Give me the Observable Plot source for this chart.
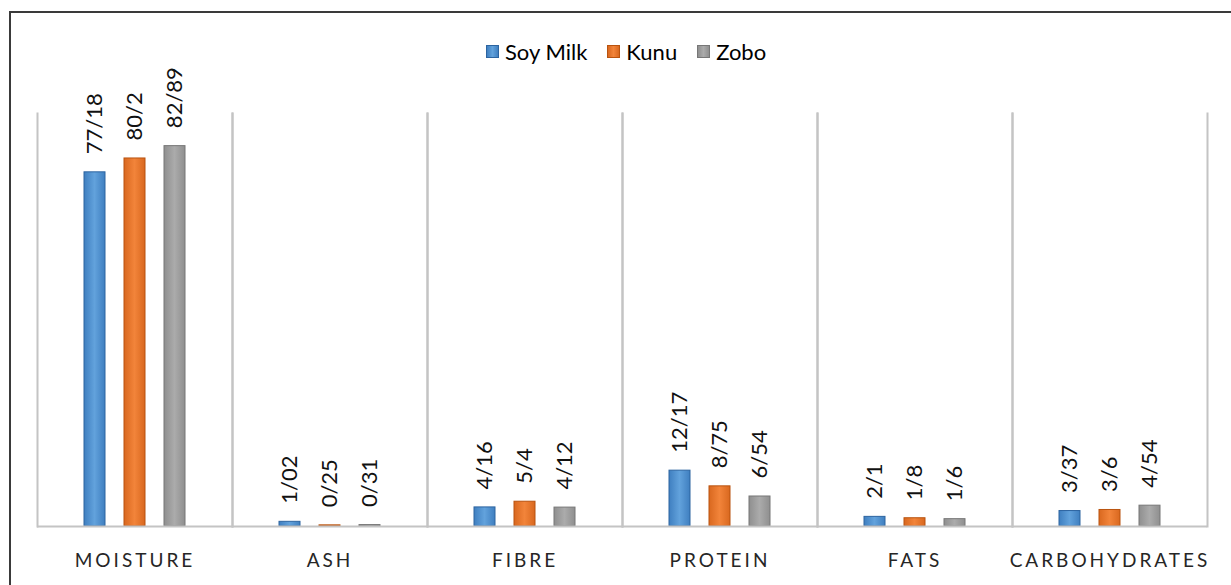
<!DOCTYPE html>
<html>
<head>
<meta charset="utf-8">
<script src="https://cdn.jsdelivr.net/npm/d3@7"></script>
<script src="https://cdn.jsdelivr.net/npm/@observablehq/plot@0.6"></script>
<style>
  html, body { margin: 0; padding: 0; background: #fff; overflow: hidden; }
  body { width: 1231px; height: 585px; position: relative; font-family: Lato, "Open Sans", sans-serif; }
  #border { position: absolute; left: 9px; top: 11px; width: 1260px; height: 620px; border: 2px solid #3a3a3a; box-sizing: border-box; pointer-events: none; }
  #legend { position: absolute; left: 486px; top: 38px; display: flex; align-items: center; font-size: 22px; color: #000; }
  #legend .item { display: flex; align-items: center; margin-right: 20px; }
  #legend .sw { width: 13px; height: 13px; box-sizing: border-box; margin-right: 6px; border: 1px solid; }
  #chart { position: absolute; left: 0; top: 0; }
</style>
</head>
<body>
<div id="chart"></div>
<div id="legend"></div>
<div id="border"></div>
<script>
const categories = ["MOISTURE", "ASH", "FIBRE", "PROTEIN", "FATS", "CARBOHYDRATES"];
const series = ["Soy Milk", "Kunu", "Zobo"];
const soyMilk = [77.18, 1.02, 4.16, 12.17, 2.1, 3.37];
const kunu = [80.2, 0.25, 5.4, 8.75, 1.8, 3.6];
const zobo = [82.89, 0.31, 4.12, 6.54, 1.6, 4.54];

const seriesValues = [soyMilk, kunu, zobo];
const data = [];
categories.forEach((c, i) => {
  series.forEach((s, j) => data.push({category: c, series: s, value: seriesValues[j][i]}));
});

const fillEdge = ["#3f7fc0", "#d9681f", "#8f8f8f"];
const fillMid = ["#62a2dc", "#f2843a", "#ababab"];
const strokeCol = ["#2c64a0", "#b9530f", "#777777"];
const gradIds = ["gSoy", "gKunu", "gZobo"];

const chart = Plot.plot({
  width: 1231,
  height: 585,
  marginLeft: 36,
  marginRight: 23,
  marginTop: 113,
  marginBottom: 59,
  style: {fontFamily: "Lato, 'Open Sans', sans-serif", background: "transparent"},
  fx: {domain: categories, padding: 0, axis: null},
  x: {domain: series, padding: 0.475, insetLeft: 28, insetRight: 28, axis: null},
  y: {domain: [0, 90], axis: null},
  color: {domain: series, range: gradIds.map(id => `url(#${id})`)},
  marks: [
    Plot.frame({anchor: "left", stroke: "#c4c4c4", strokeWidth: 2}),
    Plot.frame({anchor: "right", stroke: "#c4c4c4", strokeWidth: 2}),
    Plot.barY(data, {
      fx: "category", x: "series", y: "value", fill: "series",
      stroke: d => strokeCol[series.indexOf(d.series)], strokeWidth: 1
    }),
    Plot.ruleY([0], {stroke: "#c4c4c4", strokeWidth: 2}),
    Plot.text(data, {
      fx: "category", x: "series", y: "value",
      text: d => String(d.value).replace(".", "/"),
      rotate: -90, textAnchor: "start", dy: -18, fontSize: 22, fill: "#111"
    }),
    Plot.text(categories, {
      fx: d => d, text: d => d, frameAnchor: "bottom", lineAnchor: "top",
      dy: 27, fontSize: 19, fill: "#262626"
    })
  ]
});

// gradient definitions for the bar fills
const defs = d3.select(chart).insert("defs", ":first-child");
gradIds.forEach((id, i) => {
  const g = defs.append("linearGradient").attr("id", id).attr("x1", "0").attr("x2", "1").attr("y1", "0").attr("y2", "0");
  g.append("stop").attr("offset", "0%").attr("stop-color", fillEdge[i]);
  g.append("stop").attr("offset", "50%").attr("stop-color", fillMid[i]);
  g.append("stop").attr("offset", "100%").attr("stop-color", fillEdge[i]);
});
d3.select(chart).selectAll("text")
  .filter(function() { return categories.includes(this.textContent); })
  .style("letter-spacing", "3px");

document.getElementById("chart").appendChild(chart);

const legend = d3.select("#legend");
series.forEach((s, i) => {
  const it = legend.append("div").attr("class", "item");
  it.append("div").attr("class", "sw")
    .style("background", `linear-gradient(90deg, ${fillEdge[i]}, ${fillMid[i]}, ${fillEdge[i]})`)
    .style("border-color", strokeCol[i]);
  it.append("span").text(s);
});
</script>
</body>
</html>
